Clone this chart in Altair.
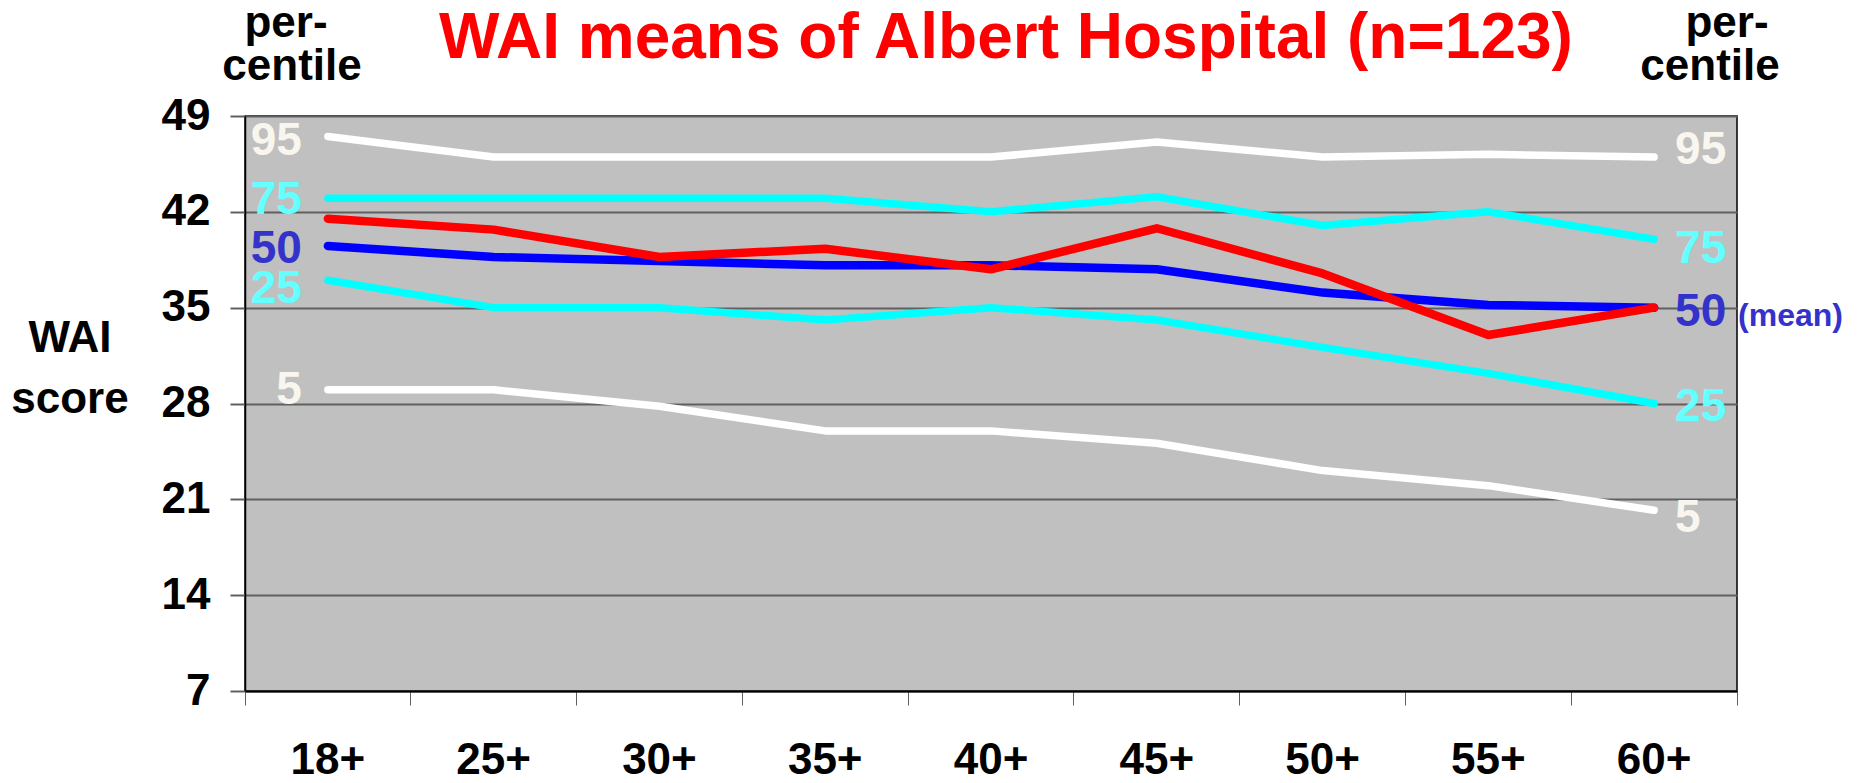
import altair as alt
import pandas as pd

# ---------------- data ----------------
ages = ["18+", "25+", "30+", "35+", "40+", "45+", "50+", "55+", "60+"]
p95 = [47.5, 46, 46, 46, 46, 47.1, 46, 46.2, 46]
p75 = [43, 43, 43, 43, 42, 43.1, 41, 42, 40]
p50 = [39.5, 38.7, 38.4, 38.1, 38.1, 37.8, 36.1, 35.2, 35]
p25 = [37, 35, 35, 34.1, 35, 34.1, 32.1, 30.2, 28]
p5 = [29, 29, 27.8, 26, 26, 25.1, 23.1, 22, 20.2]
mean = [41.5, 40.7, 38.7, 39.3, 37.8, 40.8, 37.5, 33, 35]
y_ticks = [7, 14, 21, 28, 35, 42, 49]
series_names = ["95", "75", "50", "25", "5", "mean"]
title_text = "WAI means of Albert Hospital (n=123)"
side_title = ["per-", "centile"]
y_title = ["WAI", "score"]
mean_note = "(mean)"

values = {"95": p95, "75": p75, "50": p50, "25": p25, "5": p5, "mean": mean}

rows = []
for s in series_names:
    for a, v in zip(ages, values[s]):
        rows.append({"series": s, "age": a, "value": v})
df = pd.DataFrame(rows)

# ---------------- styles ----------------
FONT = "Liberation Sans"
line_style = {
    "95": ("#ffffff", 7.5),
    "5": ("#ffffff", 7.5),
    "75": ("#00ffff", 7.5),
    "25": ("#00ffff", 7.5),
    "50": ("#0000ff", 8.5),
    "mean": ("#ff0000", 8.5),
}
label_color = {"95": "#f8f6ee", "5": "#f8f6ee", "75": "#66ffff", "25": "#66ffff", "50": "#3333cc"}
dy_left = {"95": 18, "75": 16, "50": 17, "25": 23, "5": 14}
dy_right = {"95": 7, "75": 24, "50": 18, "25": 17, "5": 22}

xscale = alt.Scale(type="band", domain=ages, paddingInner=0, paddingOuter=0)
yscale = alt.Scale(domain=[7, 49], nice=False, zero=False)

xaxis = alt.Axis(
    title=None, labelAngle=0, labelFont=FONT, labelFontSize=44, labelFontWeight="bold",
    labelColor="black", labelBaseline="alphabetic", labelPadding=68, tickSize=14,
    bandPosition=1, tickExtra=True, tickColor="#606060", tickWidth=1,
    domainColor="black", domainWidth=2, grid=False, labelOverlap=False,
)
yaxis = alt.Axis(
    title=None, values=y_ticks, labelFont=FONT, labelFontSize=44, labelFontWeight="bold",
    labelColor="black", labelPadding=20, tickSize=15, tickWidth=2, tickColor="#606060",
    grid=True, gridColor="#606060", gridWidth=2, domainColor="black", domainWidth=1.5,
    labelBaseline="middle",
)


def xenc():
    return alt.X("age:N", scale=xscale, bandPosition=0.5, axis=xaxis, sort=ages)


def yenc():
    return alt.Y("value:Q", scale=yscale, axis=yaxis)


layers = []
for s in ["95", "5", "75", "25", "50", "mean"]:
    col, w = line_style[s]
    layers.append(
        alt.Chart(df[df.series == s]).mark_line(
            color=col, strokeWidth=w, strokeCap="round", strokeJoin="round"
        ).encode(x=xenc(), y=yenc())
    )

# end labels of the percentile lines
for s in ["95", "75", "50", "25", "5"]:
    for idx, align, dx, dyd in [(0, "right", -26, dy_left), (-1, "left", 21, dy_right)]:
        ldf = pd.DataFrame({"age": [ages[idx]], "value": [values[s][idx]], "t": [s]})
        layers.append(
            alt.Chart(ldf).mark_text(
                align=align, baseline="alphabetic", dx=dx, dy=dyd[s], font=FONT,
                fontSize=46, fontWeight="bold", color=label_color[s],
            ).encode(x=xenc(), y=yenc(), text="t:N")
        )

mdf = pd.DataFrame({"age": [ages[-1]], "value": [p50[-1]], "t": [mean_note]})
layers.append(
    alt.Chart(mdf).mark_text(
        align="left", baseline="alphabetic", dx=84, dy=18, font=FONT, fontSize=32,
        fontWeight="bold", color="#3333cc",
    ).encode(x=xenc(), y=yenc(), text="t:N")
)


def note(text, x, y, size=44, color="black", align="center"):
    return alt.Chart(pd.DataFrame({"t": [text]})).mark_text(
        align=align, baseline="alphabetic", font=FONT, fontSize=size,
        fontWeight="bold", color=color,
    ).encode(x=alt.value(x), y=alt.value(y), text="t:N")


layers.append(note(title_text, 761, -58, size=64, color="#ff0000"))
layers.append(note(side_title[0], 41, -79))
layers.append(note(side_title[1], 47, -36))
layers.append(note(side_title[0], 1482, -79))
layers.append(note(side_title[1], 1465, -36))
layers.append(note(y_title[0], -175, 236))
layers.append(note(y_title[1], -175, 297))

chart = alt.layer(*layers).properties(
    width=1492,
    height=575,
    autosize=alt.AutoSizeParams(type="none"),
    padding={"left": 237, "top": 108, "right": 107, "bottom": 84},
).configure_view(fill="#c0c0c0", stroke="black", strokeWidth=1.5)

chart.save("out.html", embed_options={"renderer": "svg", "actions": False})
